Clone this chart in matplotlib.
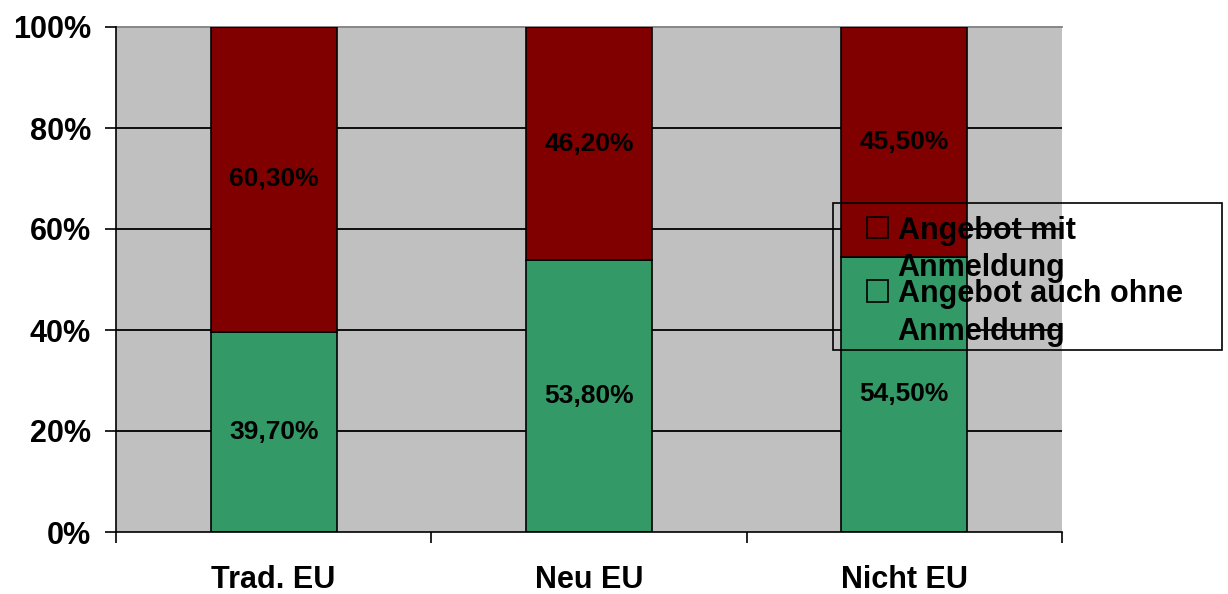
import matplotlib
matplotlib.use("Agg")
import matplotlib.pyplot as plt
from matplotlib.patches import Patch, Rectangle
import numpy as np

plt.rcParams['font.family'] = ['Liberation Sans', 'DejaVu Sans']
plt.rcParams['font.weight'] = 'bold'

categories = ["Trad. EU", "Neu EU", "Nicht EU"]
ohne_anmeldung = [39.7, 53.8, 54.5]
mit_anmeldung = [60.3, 46.2, 45.5]
label_ohne = ["39,70%", "53,80%", "54,50%"]
label_mit = ["60,30%", "46,20%", "45,50%"]
series_names = ["Angebot mit\nAnmeldung", "Angebot auch ohne\nAnmeldung"]

green = "#339966"
red = "#800000"
grey = "#C0C0C0"


class TopSquare:
    # empty square aligned with the first line of a two-line label
    def legend_artist(self, legend, orig_handle, fontsize, handlebox):
        x0, y0 = handlebox.xdescent, handlebox.ydescent
        w = handlebox.width
        p = Rectangle((x0, -y0 + 0.75 * fontsize), w, w, facecolor="none",
                      edgecolor="black", linewidth=1.2, transform=handlebox.get_transform())
        handlebox.add_artist(p)
        return p


fig = plt.figure(figsize=(12.28, 5.94), dpi=100)
ax = fig.add_axes([116/1228, 1 - 532/594, 946/1228, 505/594])
ax.set_facecolor(grey)

x = np.arange(len(categories))
b1 = ax.bar(x, ohne_anmeldung, width=0.4, color=green, edgecolor="black", linewidth=1.2, zorder=3)
b2 = ax.bar(x, mit_anmeldung, width=0.4, bottom=ohne_anmeldung, color=red, edgecolor="black", linewidth=1.2, zorder=3)

for i in range(len(categories)):
    ax.text(x[i], ohne_anmeldung[i] / 2, label_ohne[i], ha="center", va="center", fontsize=19, fontweight="bold", zorder=4)
    ax.text(x[i], ohne_anmeldung[i] + mit_anmeldung[i] / 2, label_mit[i], ha="center", va="center", fontsize=19, fontweight="bold", zorder=4)

ax.set_xlim(-0.5, len(categories) - 0.5)
ax.set_ylim(0, 100)
yt = [0, 20, 40, 60, 80, 100]
ax.set_yticks(yt)
ax.set_yticklabels([f"{v}%" for v in yt], fontsize=22, fontweight="bold")
ax.hlines(yt[1:-1], -0.5, len(categories) - 0.5, colors="black", linewidth=1.3, zorder=1)

ax.set_xticks(np.arange(len(categories) + 1) - 0.5)
ax.set_xticklabels([])
ax.set_xticks(x, minor=True)
ax.set_xticklabels(categories, minor=True, fontsize=22, fontweight="bold")
ax.tick_params(axis="x", which="major", length=8, width=1.2, direction="out")
ax.tick_params(axis="x", which="minor", length=0, pad=24)
ax.tick_params(axis="y", length=8, width=1.2, pad=10)

ax.spines["right"].set_visible(False)
ax.spines["top"].set_color("#808080")
ax.spines["top"].set_linewidth(1.3)
ax.spines["top"].set_zorder(1)
ax.spines["left"].set_linewidth(1.2)
ax.spines["bottom"].set_linewidth(1.2)
ax.spines["bottom"].set_zorder(5)

handles = [Patch(), Patch()]
leg = fig.legend(handles, series_names, loc="upper left", bbox_to_anchor=(867/1228, 1 - 216/594),
                 frameon=False, prop={"size": 22, "weight": "bold"},
                 handler_map={Patch: TopSquare()}, handlelength=0.7, handleheight=0.7,
                 handletextpad=0.3, labelspacing=-0.12, borderpad=0, borderaxespad=0)
for t in leg.get_texts():
    t.set_linespacing(1.31)
fig.patches.append(Rectangle((833/1228, 1 - 350/594), 389/1228, 147/594, transform=fig.transFigure,
                             facecolor="none", edgecolor="black", linewidth=1.2, zorder=6))

fig.savefig("out.png", dpi=100)
